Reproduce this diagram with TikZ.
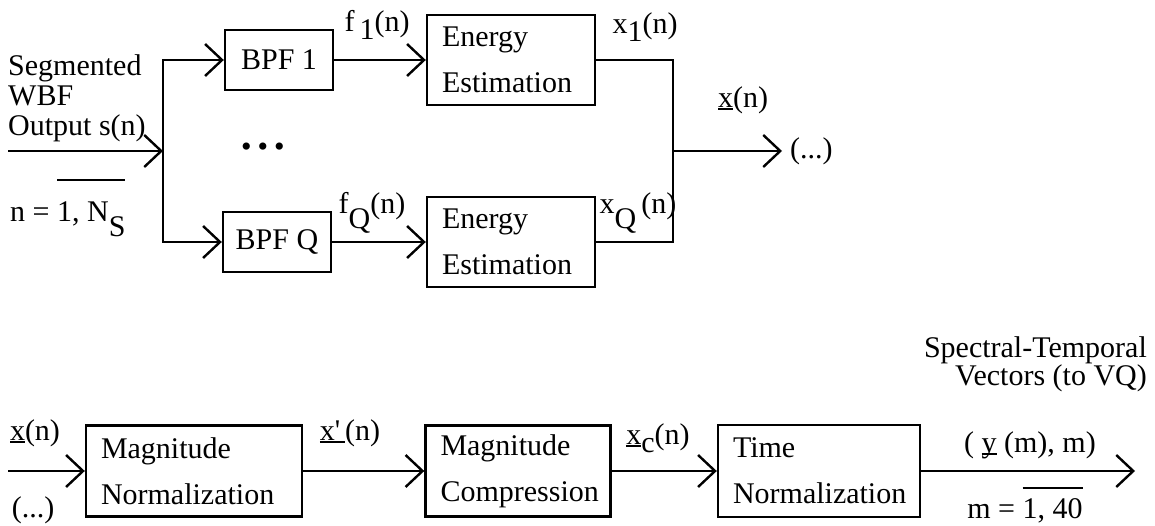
\documentclass[tikz,border=0pt]{standalone}
\usepackage{fontspec}
\setmainfont{Liberation Serif}
\usetikzlibrary{arrows.meta, positioning}
\newcommand\lo[2][-0.28em]{\raisebox{#1}{#2}}
\newcommand\rulemark[2]{\setbox0\hbox{#2}\rlap{\rule[#1]{\wd0}{2pt}}\box0\relax}
\tikzset{
  sigline/.style={line width=2.4pt},
  sigarrow/.style={sigline,-{Straight Barb[length=17pt,width=32pt]}},
  blk/.style={rectangle,draw,line width=2.4pt,inner xsep=15pt,inner ysep=0pt,align=left,
    font=\fontsize{30}{46}\selectfont},
  bpf/.style={rectangle,draw,line width=2.4pt,minimum width=108pt,minimum height=60pt,
    inner sep=0pt,font=\fontsize{30}{30}\selectfont},
  lbl/.style={inner sep=0pt,font=\fontsize{30}{30}\selectfont},
}
\begin{document}
\begin{tikzpicture}[x=1pt,y=-1pt]
  \useasboundingbox (0,0) rectangle (1155,526);
  \node[bpf] (bpf1) at (279,60) {BPF 1};
  \node[bpf] (bpfq) at (277,242) {BPF Q};
  \node[blk,text width=138pt,minimum height=90pt] (en1) at (511,60) {Energy\\Estimation};
  \node[blk,text width=138pt,minimum height=90pt] (enq) at (511,242) {Energy\\Estimation};
  \node[blk,text width=186pt,minimum height=91pt] (magn) at (194,471) {Magnitude\\Normalization};
  \node[blk,text width=155pt,minimum height=91pt] (magc) at (518,471) {Magnitude\\Compression};
  \node[blk,text width=172pt,minimum height=92pt] (timen) at (819,471) {Time\\Normalization};
  \coordinate (src) at (8,151);
  \coordinate (split) at (163,151);
  \coordinate (merge) at (673,151);
  \coordinate (sink) at (782,151);
  \coordinate (xin) at (8,471);
  \coordinate (vqout) at (1135,471);
  \draw[sigarrow] (src) -- (split);
  \draw[sigarrow] (split) |- (bpf1.west);
  \draw[sigarrow] (split) |- (bpfq.west);
  \draw[sigarrow] (bpf1) -- (en1);
  \draw[sigarrow] (bpfq) -- (enq);
  \draw[sigline] (en1.east) -| (merge);
  \draw[sigline] (enq.east) -| (merge);
  \draw[sigarrow] (merge) -- (sink);
  \draw[sigarrow] (xin) -- (magn);
  \draw[sigarrow] (magn) -- (magc);
  \draw[sigarrow] (magc) -- (timen);
  \draw[sigarrow] (timen) -- (vqout);
  \node[lbl,anchor=north west,align=left] (seg) at (8,54) {Segmented\\WBF\\Output s(n)};
  \node[lbl,anchor=base west] (range) at (10,222) {n = \rulemark{1.35em}{1, N\lo[-0.5em]{S}}};
  \node[lbl] (dots) at (263,150) {\textbullet\hspace{6pt}\textbullet\hspace{6pt}\textbullet};
  \node[lbl] (f1) at (377,25) {f\,\lo{1}(n)};
  \node[lbl] (fq) at (372,213) {f\lo[-0.5em]{Q}(n)};
  \node[lbl] (x1) at (645,27) {x\lo{1}(n)};
  \node[lbl] (xq) at (638,213) {x\lo[-0.5em]{Q}\,(n)};
  \node[lbl] (xvec) at (743,100) {\rulemark{-3pt}{x}(n)};
  \node[lbl,anchor=west] (etc1) at (790,151) {(...)};
  \node[lbl] (xinlbl) at (35,433) {\rulemark{-3pt}{x}(n)};
  \node[lbl] (etc2) at (33,510) {(...)};
  \node[lbl] (xnorm) at (350,433) {\rulemark{-3pt}{x\textquotesingle\,}(n)};
  \node[lbl] (xcomp) at (658,438) {\rulemark{-3pt}{x}\lo{c}(n)};
  \node[lbl,anchor=north east,align=right,font=\fontsize{30}{28}\selectfont] (vqlbl) at (1147,336) {Spectral-Temporal\\Vectors (to VQ)};
  \node[lbl] (ylbl) at (1030,445) {( \rulemark{-3pt}{y} (m), m)};
  \node[lbl] (mrange) at (1025,505) {m = \rulemark{1.0em}{1, 40}};
\end{tikzpicture}
\end{document}
